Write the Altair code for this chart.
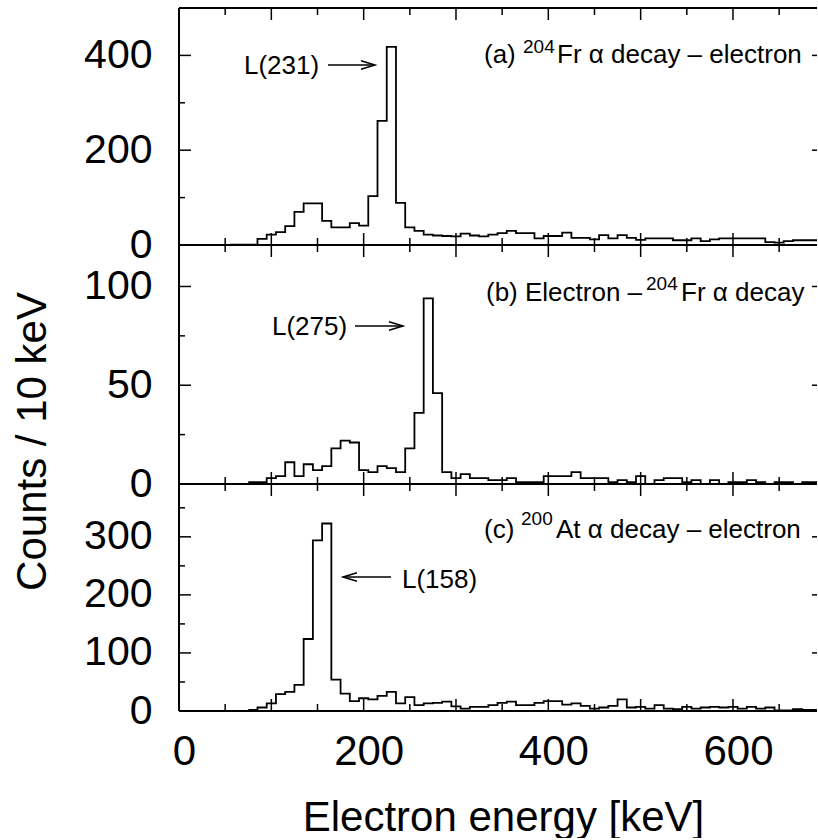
import altair as alt
import pandas as pd

FONT = "Liberation Sans"
BIN = 10

# ---- data: bin centres (keV) and counts per 10 keV ----
energy_a = list(range(60, 700, 10))
counts_a = [1, 1, 1, 13, 22, 27, 40, 70, 88, 88, 51, 37, 37, 46, 41, 103, 262, 418, 89, 37,
            30, 22, 20, 19, 18, 24, 20, 18, 22,
            25, 30, 25, 25, 14, 19, 19, 26, 15, 15, 12, 21, 14, 21, 15, 11, 14, 14, 14, 10,
            10, 14, 8, 12, 14, 14, 14, 14, 14, 6, 5, 8, 10, 10, 10]

energy_b = list(range(80, 700, 10))
counts_b = [1, 1, 3, 4, 11, 4, 10, 7, 9, 18, 22, 21, 7, 6, 9, 8, 6, 18, 36, 94, 46, 6, 3, 5, 3, 3, 2,
            2, 3, 1, 1, 1, 4, 4, 4, 6, 3, 3, 3, 1, 2, 1, 4, 0, 2, 3, 3, 1, 2, 0, 2, 0, 1, 1, 2,
            1, 0, 1, 1, 0, 1, 1]

energy_c = list(range(80, 700, 10))
counts_c = [2, 6, 13, 29, 33, 45, 124, 294, 323, 54, 30, 17, 22, 20, 26, 33, 13, 24, 10, 13, 14,
            16, 8, 4, 7, 7, 10,
            14, 16, 10, 10, 14, 17, 17, 11, 13, 9, 4, 6, 9, 20, 6, 7, 4, 10, 4, 3, 7, 4, 6, 7,
            6, 7, 4, 7, 4, 6, 1, 1, 3, 2, 2]

x_labels = [0, 200, 400, 600]
x_ticks_major = [0, 100, 200, 300, 400, 500, 600]
x_ticks_minor = [50, 150, 250, 350, 450, 550, 650]

y_a_major, y_a_minor = [0, 200, 400], [100, 300]
y_b_major, y_b_minor = [0, 50, 100], [25, 75]
y_c_major, y_c_minor = [0, 100, 200, 300], [50, 150, 250, 350]

X_MAX = 691
W = 638
ONE = pd.DataFrame({"k": [0]})


def hist_df(energy, counts):
    edges = [e - BIN / 2 for e in energy] + [energy[-1] + BIN / 2]
    vals = list(counts) + [counts[-1]]
    return pd.DataFrame({"e": edges, "n": vals})


def text_layer(txt, x, y, size):
    return alt.Chart(ONE).mark_text(
        text=txt, align="left", baseline="alphabetic", font=FONT,
        fontSize=size, color="black"
    ).encode(x=alt.value(x), y=alt.value(y))


def arrow_layers(x1, x2, y, head_right):
    line = alt.Chart(ONE).mark_rule(color="black", strokeWidth=1.5).encode(
        x=alt.value(x1), x2=alt.value(x2), y=alt.value(y))
    if head_right:
        shape, tip = "M -1 -0.3 L 0 0 L -1 0.3", x2
    else:
        shape, tip = "M 1 -0.3 L 0 0 L 1 0.3", x1
    head = alt.Chart(ONE).mark_point(
        shape=shape, size=784, filled=False, color="black", strokeWidth=1.5, opacity=1
    ).encode(x=alt.value(tip), y=alt.value(y))
    return [line, head]


def panel(energy, counts, ymax, H, y_major, y_minor, texts, arrow, show_x, ytitle=False):
    xs = alt.Scale(domain=[0, X_MAX], nice=False, zero=False)
    ys = alt.Scale(domain=[0, ymax], nice=False, zero=False)
    if show_x:
        xaxis = alt.Axis(values=x_labels, ticks=False, tickSize=0, domain=False, grid=False,
                         labelFont=FONT, labelFontSize=42, labelColor="black",
                         labelPadding=20, labelOffset=5, labelFlush=False, labelOverlap=False,
                         title="Electron energy [keV]", titleFont=FONT, titleFontSize=42,
                         titleFontWeight="normal", titleColor="black",
                         titleBaseline="alphabetic", titleY=119, titleX=324)
    else:
        xaxis = None
    yargs = dict(values=y_major, ticks=False, tickSize=0, domain=False, grid=False,
                 labelFont=FONT, labelFontSize=41, labelColor="black", labelPadding=27,
                 labelOverlap=False, labelBaseline="middle")
    if ytitle:
        yaxis = alt.Axis(title="Counts / 10 keV", titleFont=FONT, titleFontSize=42,
                         titleFontWeight="normal", titleColor="black", titleAngle=270,
                         titleBaseline="alphabetic", titleAlign="center",
                         titleX=-134, titleY=196, **yargs)
    else:
        yaxis = alt.Axis(title=None, **yargs)

    def X(f):
        return alt.X(f, type="quantitative", scale=xs, axis=xaxis)

    def Y(f):
        return alt.Y(f, type="quantitative", scale=ys, axis=yaxis)

    hist = alt.Chart(hist_df(energy, counts)).mark_line(
        interpolate="step-after", color="black", strokeWidth=1.8, clip=True
    ).encode(x=X("e"), y=Y("n"))

    layers = [hist]
    # frame (left, top, bottom)
    layers.append(alt.Chart(ONE).mark_rule(color="black", strokeWidth=2).encode(
        x=alt.value(0), y=alt.value(0), y2=alt.value(H)))
    layers.append(alt.Chart(ONE).mark_rule(color="black", strokeWidth=2).encode(
        x=alt.value(0), x2=alt.value(W), y=alt.value(0)))
    layers.append(alt.Chart(ONE).mark_rule(color="black", strokeWidth=2).encode(
        x=alt.value(0), x2=alt.value(W), y=alt.value(H)))
    # x ticks (top and bottom, inward)
    for vals, ln in ((x_ticks_major, 12), (x_ticks_minor, 7)):
        d = pd.DataFrame({"t": vals})
        layers.append(alt.Chart(d).mark_rule(color="black", strokeWidth=1.5).encode(
            x=X("t"), y=alt.value(H), y2=alt.value(H - ln)))
        layers.append(alt.Chart(d).mark_rule(color="black", strokeWidth=1.5).encode(
            x=X("t"), y=alt.value(0), y2=alt.value(ln)))
    # y ticks (left inward; right side only the tips of the major ticks)
    for vals, ln in ((y_major, 12), (y_minor, 6)):
        d = pd.DataFrame({"t": vals})
        layers.append(alt.Chart(d).mark_rule(color="black", strokeWidth=1.5).encode(
            y=Y("t"), x=alt.value(0), x2=alt.value(ln)))
    d = pd.DataFrame({"t": y_major})
    layers.append(alt.Chart(d).mark_rule(color="black", strokeWidth=1.5).encode(
        y=Y("t"), x=alt.value(W - 5), x2=alt.value(W)))

    for t in texts:
        layers.append(text_layer(*t))
    layers.extend(arrow_layers(*arrow))
    return alt.layer(*layers).properties(width=W, height=H)


pa = panel(energy_a, counts_a, 500, 237, y_a_major, y_a_minor,
           [("(a)", 305, 55, 26), ("204", 344, 45, 19), ("Fr \u03b1 decay \u2013 electron", 378, 55, 26),
            ("L(231)", 65, 66, 26)],
           (149, 196, 57, True), False)
pb = panel(energy_b, counts_b, 121, 239, y_b_major, y_b_minor,
           [("(b) Electron \u2013", 307, 56, 26), ("204", 467, 45, 19), ("Fr \u03b1 decay", 502, 56, 26),
            ("L(275)", 93, 90, 26)],
           (176, 224, 81, True), False, ytitle=True)
pc = panel(energy_c, counts_c, 391, 227, y_c_major, y_c_minor,
           [("(c)", 305, 54, 26), ("200", 342, 41, 19), ("At \u03b1 decay \u2013 electron", 377, 54, 26),
            ("L(158)", 223, 104, 26)],
           (164, 212, 93, False), True)

chart = alt.vconcat(pa, pb, pc, spacing=0, bounds="flush").properties(
    padding={"left": 11, "top": 7, "right": 0, "bottom": 0},
    background="white",
).configure_view(stroke=None)

chart.save("out.html", embed_options={"renderer": "svg", "actions": False})
